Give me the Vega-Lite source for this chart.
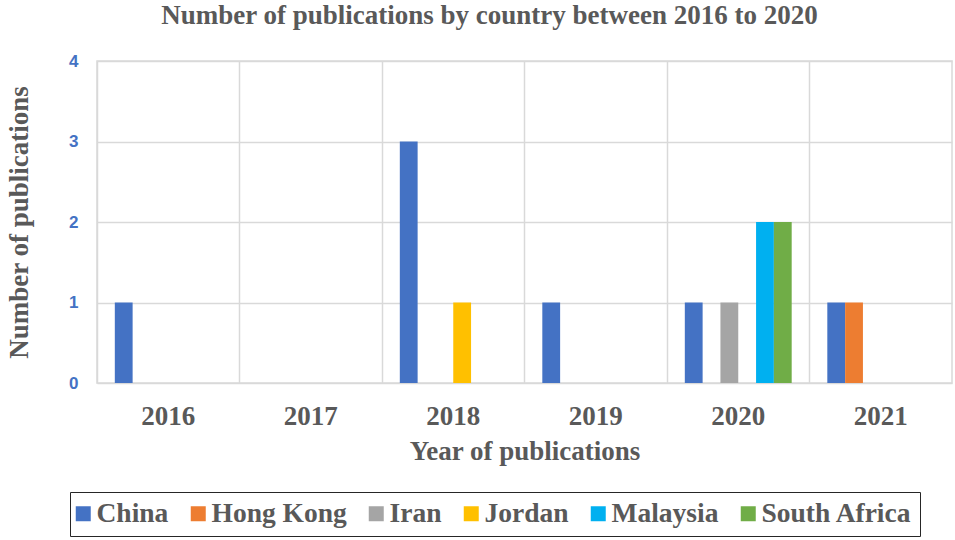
{
  "$schema": "https://vega.github.io/schema/vega-lite/v6.json",
  "width": 855,
  "height": 322,
  "autosize": {"type": "none"},
  "padding": {"left": 97, "top": 61, "right": 3, "bottom": 157},
  "background": "white",
  "title": {
    "text": "Number of publications by country between 2016 to 2020",
    "font": "Liberation Serif",
    "fontSize": 27,
    "fontWeight": "bold",
    "color": "#595959",
    "anchor": "middle",
    "dx": -35,
    "offset": 22
  },
  "data": {
    "values": [
      {"year": "2016", "country": "China", "count": 1},
      {"year": "2018", "country": "China", "count": 3},
      {"year": "2018", "country": "Jordan", "count": 1},
      {"year": "2019", "country": "China", "count": 1},
      {"year": "2020", "country": "China", "count": 1},
      {"year": "2020", "country": "Iran", "count": 1},
      {"year": "2020", "country": "Malaysia", "count": 2},
      {"year": "2020", "country": "South Africa", "count": 2},
      {"year": "2021", "country": "China", "count": 1},
      {"year": "2021", "country": "Hong Kong", "count": 1}
    ]
  },
  "mark": {"type": "bar"},
  "encoding": {
    "x": {
      "field": "year",
      "type": "nominal",
      "scale": {"domain": ["2016", "2017", "2018", "2019", "2020", "2021"], "paddingInner": 0, "paddingOuter": 0},
      "axis": {
        "title": "Year of publications",
        "labelAngle": 0,
        "bandPosition": 0,
        "grid": true,
        "gridColor": "#d9d9d9",
        "gridWidth": 1.5,
        "domain": false,
        "ticks": false,
        "labelPadding": 20,
        "labelFont": "Liberation Serif",
        "labelFontSize": 27,
        "labelFontWeight": "bold",
        "labelColor": "#595959",
        "titleFont": "Liberation Serif",
        "titleFontSize": 27,
        "titleFontWeight": "bold",
        "titleColor": "#595959",
        "titlePadding": 9
      }
    },
    "xOffset": {
      "field": "country",
      "type": "nominal",
      "scale": {"domain": ["China", "Hong Kong", "Iran", "Jordan", "Malaysia", "South Africa"], "paddingInner": 0, "paddingOuter": 1.14}
    },
    "y": {
      "field": "count",
      "type": "quantitative",
      "scale": {"domain": [0, 4]},
      "axis": {
        "title": "Number of publications",
        "values": [0, 1, 2, 3, 4],
        "format": "d",
        "grid": true,
        "gridColor": "#d9d9d9",
        "gridWidth": 1.5,
        "domain": false,
        "ticks": false,
        "labelPadding": 19,
        "labelFont": "Liberation Sans",
        "labelFontSize": 17,
        "labelFontWeight": "bold",
        "labelColor": "#4472C4",
        "titleFont": "Liberation Serif",
        "titleFontSize": 27,
        "titleFontWeight": "bold",
        "titleColor": "#595959",
        "titlePadding": 35
      }
    },
    "color": {
      "field": "country",
      "type": "nominal",
      "scale": {
        "domain": ["China", "Hong Kong", "Iran", "Jordan", "Malaysia", "South Africa"],
        "range": ["#4472C4", "#ED7D31", "#A5A5A5", "#FFC000", "#00B0F0", "#70AD47"]
      },
      "legend": {
        "title": null,
        "orient": "none",
        "direction": "horizontal",
        "legendX": -27,
        "legendY": 431,
        "strokeColor": "#262626",
        "padding": 8,
        "gridAlign": "none",
        "symbolType": "square",
        "symbolSize": 225,
        "symbolStrokeWidth": 0,
        "symbolOffset": -8.5,
        "labelFont": "Liberation Serif",
        "labelFontSize": 27.5,
        "labelFontWeight": "bold",
        "labelColor": "#595959",
        "labelOffset": -0.5,
        "columnPadding": 21,
        "labelLimit": 300
      }
    }
  },
  "config": {
    "view": {"stroke": "#d9d9d9", "strokeWidth": 1.5}
  }
}
